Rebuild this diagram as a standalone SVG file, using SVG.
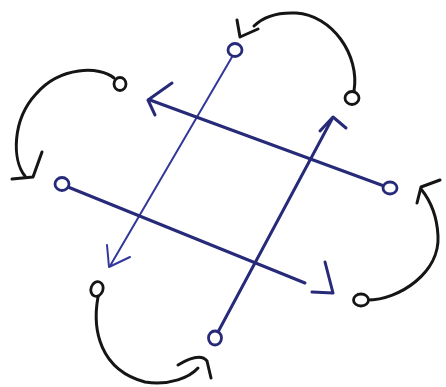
<svg xmlns="http://www.w3.org/2000/svg" width="446" height="387" viewBox="0 0 446 387">
<defs>
<style>
.bk{fill:none;stroke:#151515;stroke-width:3;stroke-linecap:round;stroke-linejoin:round}
.bl{fill:none;stroke:#262a78;stroke-width:3;stroke-linecap:round;stroke-linejoin:round}
.bt{fill:none;stroke:#33379a;stroke-width:2;stroke-linecap:round;stroke-linejoin:round}
.nb{fill:#fff;stroke:#151515;stroke-width:2.8}
.nu{fill:#fff;stroke:#262a78;stroke-width:2.8}
</style>
</defs>
<rect width="446" height="387" fill="#ffffff"/>
<g id="connectors">
<path class="bk" d="M354 91 C360 55 332 15 296 13 C276 12 262 18 254 26"/>
<path class="bk" d="M237 20 L240 37 L258 29"/>
<path class="bk" d="M114 78 C100 66 60 66 36 94 C12 120 12 160 25 176"/>
<path class="bk" d="M12 179 L33 177 L42 152"/>
<path class="bk" d="M367 300 C400 300 440 272 438 236 C437 215 430 200 421 189"/>
<path class="bk" d="M440 180 L421 187 L417 203"/>
<path class="bk" d="M98 297 C92 330 100 370 145 382 C170 386 190 377 198 368"/>
<path class="bk" d="M178 365 Q200 352 207 361 L211 378"/>
<path class="bt" d="M232 57 L110 266"/>
<path class="bt" d="M107 245 L109 267 L130 257"/>
<path class="bl" d="M384 186 L150 100"/>
<path class="bl" d="M172 83 L148 100 L155 115"/>
<path class="bl" d="M218 332 L332 119"/>
<path class="bl" d="M320 131 L333 117 L346 128"/>
<path class="bl" d="M68 187 L305 283"/>
<path class="bl" d="M325 262 L333 293 L312 292"/>
</g>
<g id="node-top"><ellipse class="nu" cx="235" cy="50" rx="7" ry="6.5"/></g>
<g id="node-right"><ellipse class="nu" cx="390" cy="188" rx="7" ry="6"/></g>
<g id="node-left"><ellipse class="nu" cx="62" cy="184" rx="7" ry="6.5"/></g>
<g id="node-bottom"><ellipse class="nu" cx="215" cy="338" rx="6.5" ry="7"/></g>
<g id="node-tr"><ellipse class="nb" cx="352" cy="98" rx="7" ry="6.5"/></g>
<g id="node-tl"><ellipse class="nb" cx="120" cy="84" rx="6" ry="6.5"/></g>
<g id="node-br"><ellipse class="nb" cx="361" cy="300" rx="7.5" ry="6"/></g>
<g id="node-bl"><ellipse class="nb" cx="97" cy="289" rx="6" ry="7.5" transform="rotate(20 97 289)"/></g>
</svg>
